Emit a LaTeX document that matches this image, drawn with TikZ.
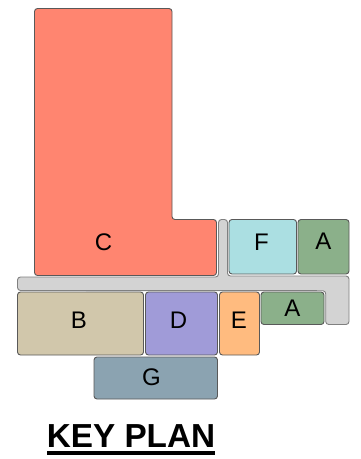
\documentclass[tikz,border=0pt]{standalone}
\usepackage{fontspec}
\setmainfont{Liberation Sans}
\usepackage{xcolor}
\usepackage{tikz}
\definecolor{roomC}{HTML}{FF8570}
\definecolor{roomB}{HTML}{D1C7AB}
\definecolor{roomD}{HTML}{A09BD8}
\definecolor{roomE}{HTML}{FFBB7F}
\definecolor{roomF}{HTML}{ABDFE2}
\definecolor{roomA}{HTML}{8BB08A}
\definecolor{roomG}{HTML}{8BA3B1}
\definecolor{corridor}{HTML}{D3D3D3}
\begin{document}
\begin{tikzpicture}
        [ x=1pt, y=-1pt,
          room/.style = {draw=black!65,line width=0.9pt,rounded corners=3pt},
          room label/.style = {font=\fontsize{24}{24}\selectfont,inner sep=0pt,text=black},
          title label/.style = {font=\fontsize{33.3}{33.3}\selectfont\bfseries,inner sep=0pt}]
        \useasboundingbox (0,0) rectangle (360,459);
        % corridor
        \draw[room,draw=black!50,fill=corridor] (17.5,277) -- (218.5,277) -- (218.5,219.5) -- (227.5,219.5)
            -- (227.5,276) -- (349,276) -- (349,324.5) -- (325.7,324.5) -- (325.7,290.7) -- (17.5,290.5) -- cycle;
        % rooms
        \draw[room,fill=roomC] (34.5,8.5) -- (172,8.5) -- (172,219.5) -- (216.5,219.5) -- (216.5,275.5) -- (34.5,275.5) -- cycle;
        \draw[room,fill=roomF] (229,219.5) rectangle (296.5,274);
        \draw[room,fill=roomA] (298,219.5) rectangle (349,274);
        \draw[room,fill=roomB] (17.5,292) rectangle (143.5,355);
        \draw[room,fill=roomD] (145.5,292) rectangle (217.5,355);
        \draw[room,fill=roomE] (219.5,292) rectangle (259.5,355);
        \draw[room,fill=roomA] (261,292) rectangle (324,324.5);
        \draw[room,fill=roomG] (94,357) rectangle (217.5,399);
        % labels
        \node[room label] (labelC) at (103.5,242) {C};
        \node[room label] (labelF) at (261.5,242) {F};
        \node[room label] (labelAtop) at (323.5,241.5) {A};
        \node[room label] (labelB) at (79,320) {B};
        \node[room label] (labelD) at (178.5,320) {D};
        \node[room label] (labelE) at (239,320) {E};
        \node[room label] (labelAlow) at (292.5,308.5) {A};
        \node[room label] (labelG) at (151.5,377) {G};
        \node[title label] (keyplan) at (131,436) {KEY PLAN};
        \fill (47,451) rectangle (215,455);
    \end{tikzpicture}
\end{document}
